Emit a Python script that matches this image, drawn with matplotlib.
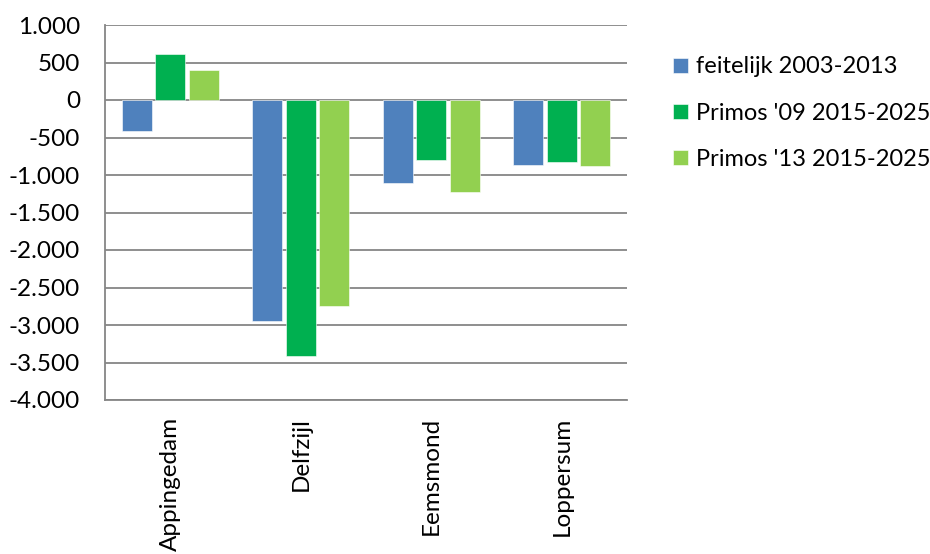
import numpy as np
import matplotlib
matplotlib.use("Agg")
import matplotlib.pyplot as plt
from matplotlib.ticker import FuncFormatter

# data
gemeenten = ["Appingedam", "Delfzijl", "Eemsmond", "Loppersum"]
feitelijk = [-410, -2950, -1110, -860]
primos09 = [610, -3410, -800, -830]
primos13 = [400, -2740, -1220, -875]
series_labels = ["feitelijk 2003-2013", "Primos '09 2015-2025", "Primos '13 2015-2025"]
colors = ["#4F81BD", "#00B050", "#92D050"]

plt.rcParams["font.family"] = ["Lato", "DejaVu Sans"]

fig = plt.figure(figsize=(9.3, 5.54), dpi=100)
ax = fig.add_axes([105 / 930, 1 - 400 / 554, 522 / 930, 375 / 554])

x = np.arange(len(gemeenten))
step = 0.257
width = 0.23
for i, (vals, lab, col) in enumerate(zip([feitelijk, primos09, primos13], series_labels, colors)):
    ax.bar(x + (i - 1) * step, vals, width, color=col, label=lab, zorder=3,
           edgecolor="white", linewidth=0.4)

ax.set_xlim(-0.5, len(gemeenten) - 0.5)
ax.set_ylim(-4000, 1000)
ax.set_yticks(np.arange(-4000, 1001, 500))
ax.yaxis.set_major_formatter(FuncFormatter(lambda v, p: f"{int(v):,}".replace(",", ".")))
ax.grid(axis="y", color="#868686", linewidth=1.3, zorder=0)
ax.set_xticks(x)
ax.set_xticklabels(gemeenten, rotation=90)
ax.tick_params(axis="both", length=0, labelsize=17.5, colors="black")
ax.tick_params(axis="x", pad=12)
ax.tick_params(axis="y", pad=18)
for side in ["top", "right"]:
    ax.spines[side].set_visible(False)
for side in ["left", "bottom"]:
    ax.spines[side].set_color("#868686")
    ax.spines[side].set_linewidth(1.3)

fig.legend(loc="upper left", bbox_to_anchor=(664 / 930, 1 - 47 / 554), frameon=False,
           fontsize=17, handlelength=0.6, handleheight=0.6, handletextpad=0.35,
           labelspacing=1.07, borderaxespad=0)

fig.savefig("out.png", dpi=100)
